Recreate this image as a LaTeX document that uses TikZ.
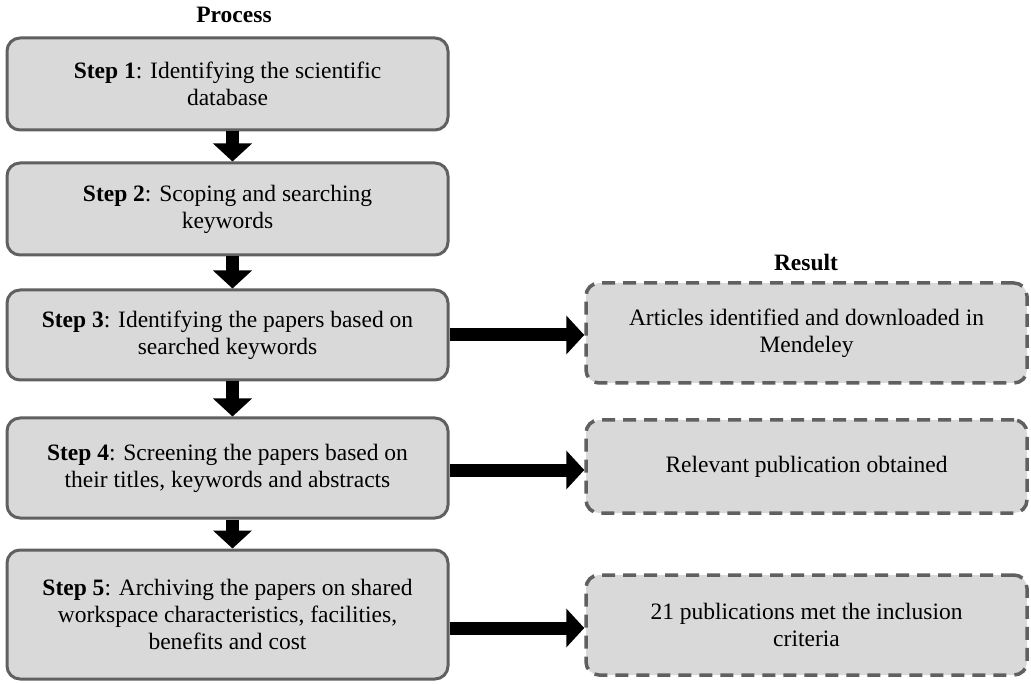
\documentclass[tikz,border=0pt]{standalone}
\usepackage{fontspec}
\setmainfont{Liberation Serif}
\usetikzlibrary{arrows.meta,calc}
\definecolor{boxfill}{HTML}{D9D9D9}
\definecolor{boxline}{HTML}{606060}
\begin{document}
\begin{tikzpicture}[x=1pt,y=-1pt,
  every node/.style={font=\fontsize{23.5}{27}\selectfont, align=center, inner sep=0pt},
  procbox/.style={draw=boxline, line width=3pt, fill=boxfill, rounded corners=13pt, minimum width=441pt},
  resbox/.style={procbox, dash pattern=on 13pt off 8pt, line width=3.5pt},
  blockarrow/.style={line width=13pt, -{Triangle[width=38pt,length=18pt]}},
  title/.style={font=\fontsize{23.5}{27}\selectfont\bfseries}
]
\useasboundingbox (0,0) rectangle (1031,684);
\node[title] (ptitle) at (234,15) {Process};
\node[title] (rtitle) at (806,262) {Result};
\node[procbox, minimum height=92pt] (b1) at (227.5,84) {\textbf{Step 1}: Identifying the scientific\\database};
\node[procbox, minimum height=92pt] (b2) at (227.5,209) {\textbf{Step 2}: Scoping and searching\\keywords};
\node[procbox, minimum height=90pt] (b3) at (227.5,335) {\textbf{Step 3}: Identifying the papers based on\\searched keywords};
\node[procbox, minimum height=100pt] (b4) at (227.5,468) {\textbf{Step 4}: Screening the papers based on\\their titles, keywords and abstracts};
\node[procbox, minimum height=129pt] (b5) at (227.5,614.5) {\textbf{Step 5}: Archiving the papers on shared\\workspace characteristics, facilities,\\benefits and cost};
\node[resbox, minimum height=100pt] (r1) at (806.5,333) {Articles identified and downloaded in\\Mendeley};
\node[resbox, minimum height=93pt] (r2) at (806.5,466.5) {Relevant publication obtained};
\node[resbox, minimum height=100pt] (r3) at (806.5,625) {21 publications met the inclusion\\criteria};
\draw[blockarrow] ([xshift=5pt]b1.south) -- ([xshift=5pt]b2.north);
\draw[blockarrow] ([xshift=5pt]b2.south) -- ([xshift=5pt]b3.north);
\draw[blockarrow] ([xshift=5pt]b3.south) -- ([xshift=5pt]b4.north);
\draw[blockarrow] ([xshift=5pt]b4.south) -- ([xshift=5pt]b5.north);
\draw[blockarrow] (b3.east) -- (b3.east -| r1.west);
\draw[blockarrow] ([yshift=-2pt]b4.east) -- ([yshift=-2pt]b4.east -| r2.west);
\draw[blockarrow] ([yshift=-3pt]r3.west -| b5.east) -- ([yshift=-3pt]r3.west);
\end{tikzpicture}
\end{document}
